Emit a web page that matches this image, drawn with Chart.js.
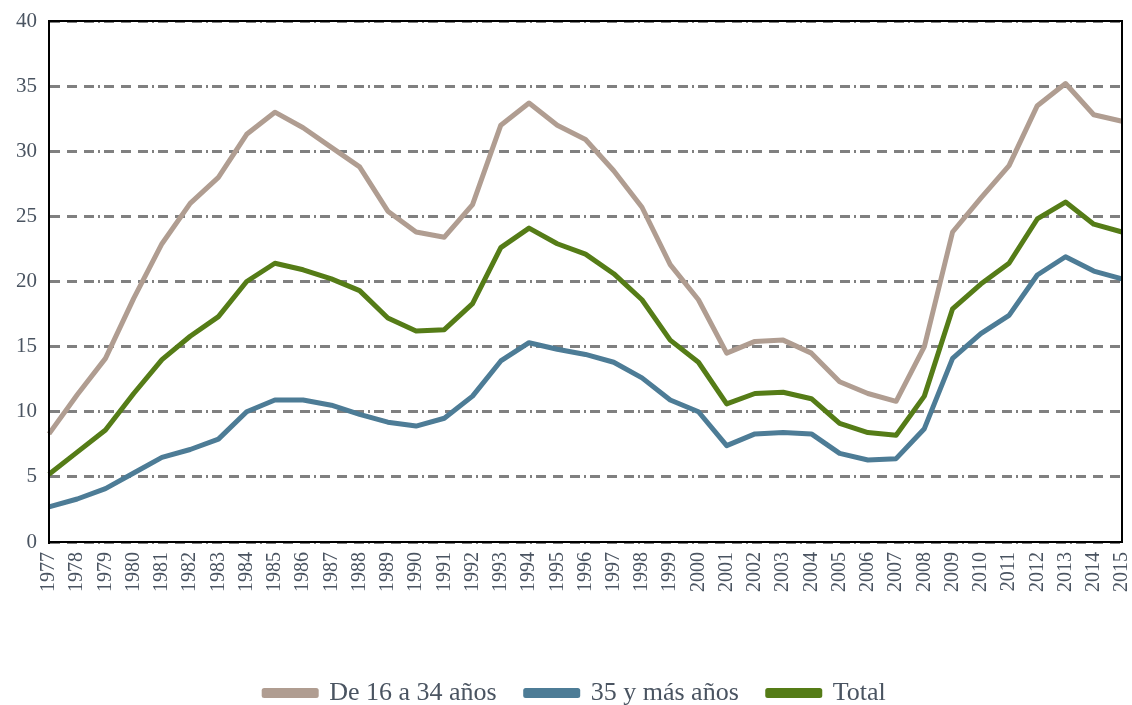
<!DOCTYPE html>
<html>
<head>
<meta charset="utf-8">
<script src="https://cdn.jsdelivr.net/npm/chart.js@4"></script>
<style>
  html, body { margin: 0; padding: 0; background: #fff; }
  #wrap { width: 1132px; height: 705px; }
</style>
</head>
<body>
<div id="wrap"><canvas id="chartParo" width="1132" height="705"></canvas></div>
<script>
const years = ["1977","1978","1979","1980","1981","1982","1983","1984","1985","1986","1987","1988","1989","1990","1991","1992","1993","1994","1995","1996","1997","1998","1999","2000","2001","2002","2003","2004","2005","2006","2007","2008","2009","2010","2011","2012","2013","2014","2015"];
const jovenes = [8.3, 11.3, 14.1, 18.7, 22.9, 26.0, 28.0, 31.3, 33.0, 31.8, 30.3, 28.8, 25.4, 23.8, 23.4, 25.9, 32.0, 33.7, 32.0, 30.9, 28.5, 25.7, 21.3, 18.6, 14.5, 15.4, 15.5, 14.5, 12.3, 11.4, 10.8, 15.0, 23.8, 26.4, 28.9, 33.5, 35.2, 32.8, 32.3];
const mayores = [2.7, 3.3, 4.1, 5.3, 6.5, 7.1, 7.9, 10.0, 10.9, 10.9, 10.5, 9.8, 9.2, 8.9, 9.5, 11.2, 13.9, 15.3, 14.8, 14.4, 13.8, 12.6, 10.9, 10.0, 7.4, 8.3, 8.4, 8.3, 6.8, 6.3, 6.4, 8.7, 14.1, 16.0, 17.4, 20.5, 21.9, 20.8, 20.2];
const total = [5.2, 6.9, 8.6, 11.4, 14.0, 15.8, 17.3, 20.0, 21.4, 20.9, 20.2, 19.3, 17.2, 16.2, 16.3, 18.3, 22.6, 24.1, 22.9, 22.1, 20.6, 18.6, 15.5, 13.8, 10.6, 11.4, 11.5, 11.0, 9.1, 8.4, 8.2, 11.2, 17.9, 19.8, 21.4, 24.8, 26.1, 24.4, 23.8];
const yTicks = [0, 5, 10, 15, 20, 25, 30, 35, 40];

const textColor = "#4a5461";
const fontFam = "'Liberation Serif', 'Times New Roman', serif";

// marco negro alrededor del área del gráfico
const marco = {
  id: "marco",
  afterLayout(chart) {
    // la leyenda va algo desplazada a la derecha en el original
    chart.legend.left += 14;
    chart.legend.right += 14;
  },
  afterDatasetsDraw(chart) {
    const { ctx, chartArea: a } = chart;
    ctx.save();
    ctx.strokeStyle = "#000";
    ctx.lineWidth = 2;
    ctx.strokeRect(a.left, a.top, a.right - a.left, a.bottom - a.top);
    ctx.restore();
  },
};

new Chart(document.querySelector("#chartParo"), {
  type: "line",
  data: {
    labels: years,
    datasets: [
      { label: "De 16 a 34 años", data: jovenes, borderColor: "#b09d91", backgroundColor: "#b09d91" },
      { label: "35 y más años", data: mayores, borderColor: "#4d7c96", backgroundColor: "#4d7c96" },
      { label: "Total", data: total, borderColor: "#557c17", backgroundColor: "#557c17" },
    ].map((d) => ({ ...d, fill: false, borderWidth: 5, pointRadius: 0, tension: 0, borderJoinStyle: "round" })),
  },
  options: {
    responsive: false,
    animation: false,
    layout: { padding: { top: 21, right: 10, left: 0, bottom: -11 } },
    scales: {
      x: {
        offset: false,
        grid: { display: false },
        border: { display: true, color: "#000", width: 2 },
        ticks: {
          color: textColor,
          font: { family: fontFam, size: 20 },
          minRotation: 90,
          maxRotation: 90,
          autoSkip: false,
          padding: 2,
        },
        afterFit(scale) {
          scale.height = 109;
          scale.paddingRight = 0;
          scale.paddingLeft = 0;
        },
      },
      y: {
        min: 0,
        max: 40,
        afterBuildTicks(scale) { scale.ticks = yTicks.map((v) => ({ value: v })); },
        grid: { color: "#808080", lineWidth: 3, drawTicks: false },
        border: { display: true, color: "#000", width: 2, dash: [10, 7, 10, 7, 10, 4, 2, 4] },
        ticks: {
          color: textColor,
          font: { family: fontFam, size: 21 },
          padding: 12,
        },
        afterFit(scale) {
          scale.width = 49;
          scale.paddingTop = 0;
          scale.paddingBottom = 0;
        },
      },
    },
    plugins: {
      legend: {
        position: "bottom",
        labels: {
          color: textColor,
          font: { family: fontFam, size: 26 },
          boxWidth: 52,
          boxHeight: 5,
          padding: 29,
        },
      },
      tooltip: { enabled: false },
    },
  },
  plugins: [marco],
});
</script>
</body>
</html>
